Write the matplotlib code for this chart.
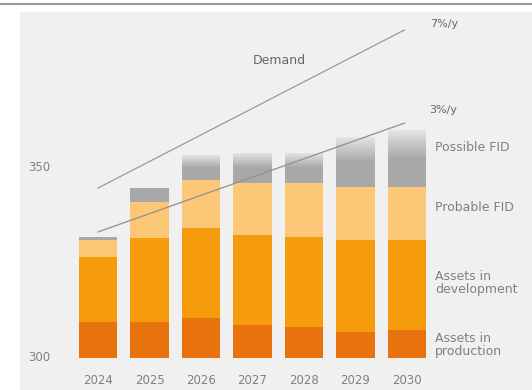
import matplotlib
matplotlib.use("Agg")
import matplotlib.pyplot as plt
import numpy as np

years = ["2024", "2025", "2026", "2027", "2028", "2029", "2030"]
base = 300
production = [9.4, 9.5, 10.5, 8.6, 8.1, 6.8, 7.3]
development = [17.0, 21.9, 23.5, 23.6, 23.6, 24.1, 23.6]
probable = [4.5, 9.5, 12.6, 13.6, 14.1, 13.9, 13.9]
possible = [0.8, 3.6, 6.5, 7.9, 7.9, 13.1, 14.9]

# growth paths (start, end) drawn as straight guides
demand_7 = [344.5, 385.9]
supply_3 = [333.0, 361.5]

yticks = [300, 350]
series_labels = ["Assets in\nproduction", "Assets in\ndevelopment", "Probable FID", "Possible FID"]
label_y = [303.4, 319.6, 339.3, 355.0]

colors = ["#e8720c", "#f59b0c", "#fcc877", "#a8a8a8"]
bg = "#f0f0f0"
txt = "#808080"

fig = plt.figure(figsize=(5.32, 3.90), dpi=100)
ax = fig.add_axes([20 / 532, 0, 1 - 20 / 532, 1 - 12 / 390])
ax.set_facecolor(bg)
x = np.arange(len(years))
w = 0.74

bottom = np.full(len(years), float(base))
for vals, c in zip([production, development, probable], colors[:3]):
    ax.bar(x, vals, w, bottom=bottom, color=c, zorder=2)
    bottom += np.array(vals)

# grey top segment fades out towards its upper edge
n = 30
for i in range(len(years)):
    h = possible[i]
    solid = h * 0.5 if h > 4 else h
    ax.bar(x[i], solid, w, bottom=bottom[i], color=colors[3], zorder=2)
    rest = h - solid
    for k in range(n):
        if rest <= 0:
            break
        a = 1 - 0.85 * (k + 0.5) / n
        ax.bar(x[i], rest / n, w, bottom=bottom[i] + solid + k * rest / n,
               color=colors[3], alpha=a, linewidth=0, zorder=2)

ax.plot([0, 5.95], demand_7, color="#9a9a9a", lw=0.9, zorder=4)
ax.plot([0, 5.95], supply_3, color="#909090", lw=0.9, zorder=4)
ax.text(3.53, 378, "Demand", fontsize=9, color="#666666", ha="center", va="center")
ax.text(6.44, 387.5, "7%/y", fontsize=8, color="#666666", ha="left", va="center")
ax.text(6.44, 365.0, "3%/y", fontsize=8, color="#666666", ha="left", va="center")

for lab, yy in zip(series_labels, label_y):
    ax.text(6.54, yy, lab, fontsize=9, color=txt, ha="left", va="center",
            linespacing=1.0)

for i, yr in enumerate(years):
    ax.text(x[i], 294.0, yr, fontsize=8.5, color=txt, ha="center", va="center")
for t in yticks:
    ax.text(-1.15, t, str(t), fontsize=8.5, color=txt, ha="center", va="center")

ax.set_xlim(-1.515, 8.427)
ax.set_ylim(291.6, 390.6)
for s in ax.spines.values():
    s.set_visible(False)
ax.set_xticks([])
ax.set_yticks([])

fig.add_artist(plt.Line2D([0, 1], [1 - 4 / 390, 1 - 4 / 390], color="#9a9a9a", lw=1.5))

fig.savefig("out.png", dpi=100, facecolor="white")
